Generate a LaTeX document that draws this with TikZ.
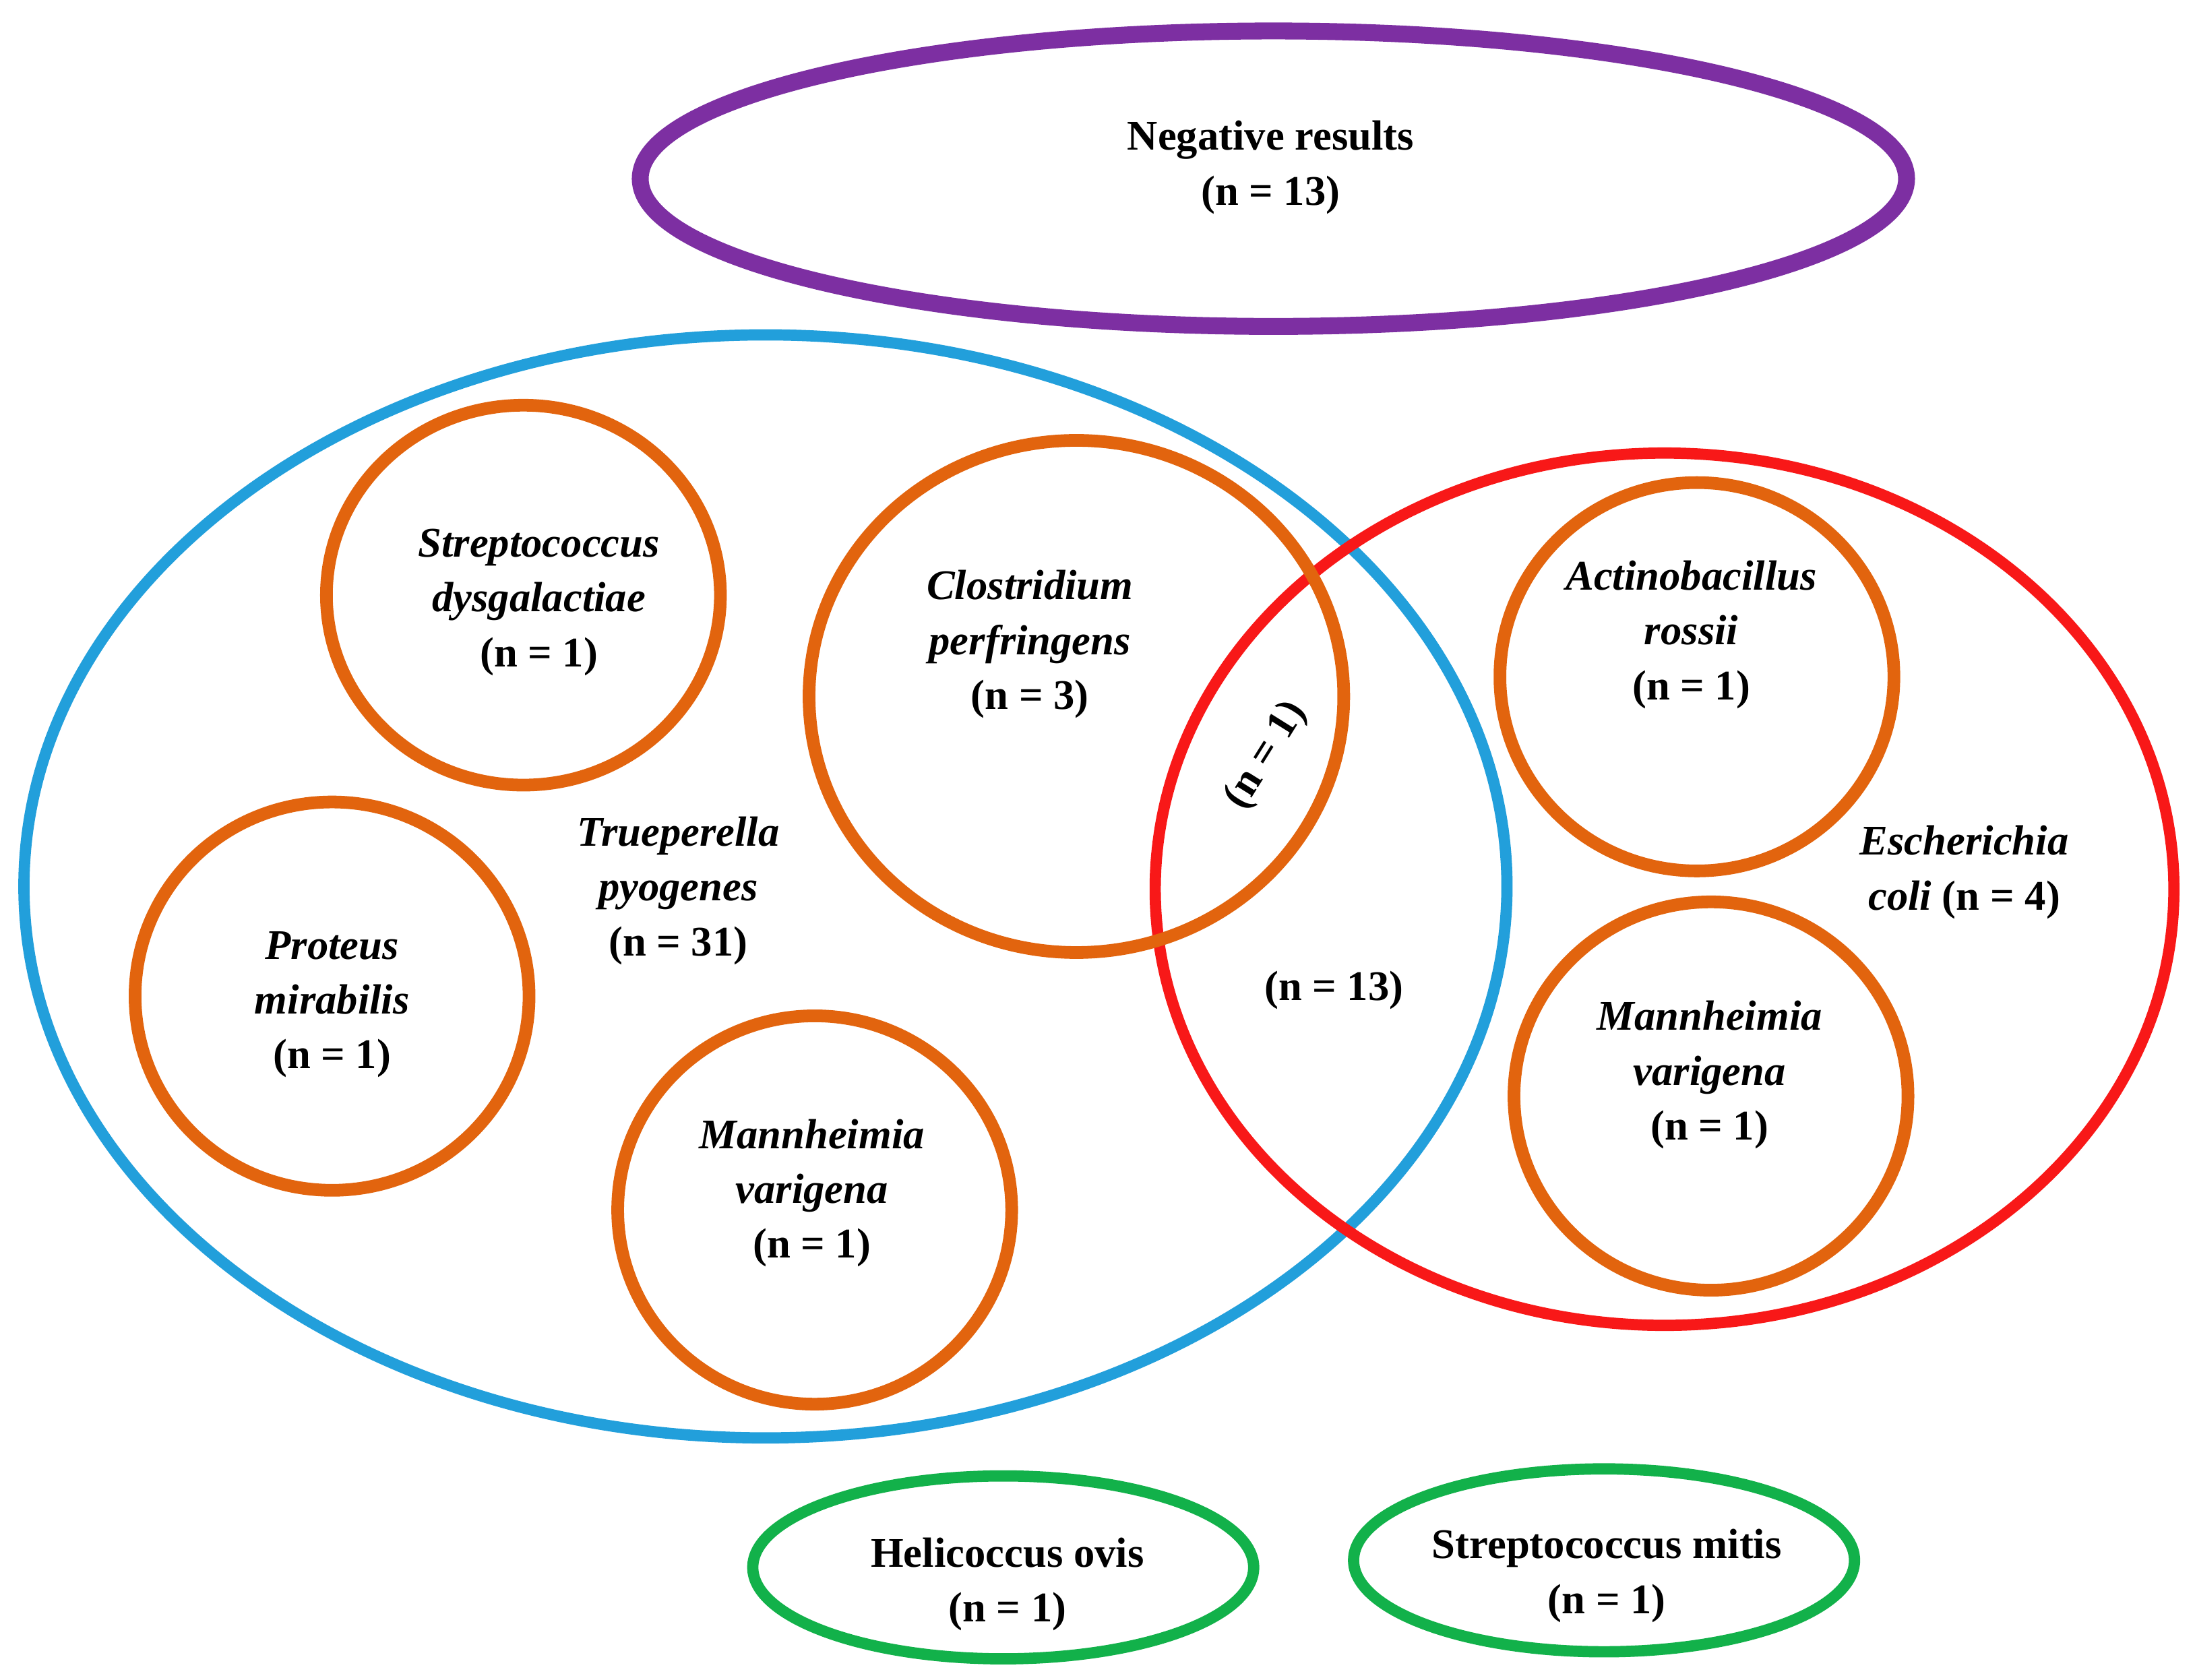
\documentclass[tikz,border=0pt]{standalone}
\usepackage{fontspec}
\setmainfont{Liberation Serif}
\definecolor{cpur}{HTML}{7D2FA2}
\definecolor{cblu}{HTML}{229FDB}
\definecolor{cred}{HTML}{F81818}
\definecolor{cora}{HTML}{E2640E}
\definecolor{cgrn}{HTML}{12B14A}
\begin{document}
\begin{tikzpicture}[x=1pt,y=-1pt,
  lab/.style={align=center,font=\fontsize{30}{39}\selectfont\bfseries},
  orc/.style={draw=cora,line width=9pt}]
\useasboundingbox (0,0) rectangle (1560,1194);
\draw[cpur,line width=12pt] (905,127) ellipse [x radius=450,y radius=105];
\draw[cblu,line width=8pt] (544,630) ellipse [x radius=527,y radius=392];
\draw[cred,line width=8pt] (1183,632) ellipse [x radius=362,y radius=310];
\draw[orc] (372,423) ellipse [x radius=140,y radius=135];
\draw[orc] (765,495) ellipse [x radius=190,y radius=182];
\draw[orc] (236,708) ellipse [x radius=140,y radius=138];
\draw[orc] (579,860) ellipse [x radius=140,y radius=138];
\draw[orc] (1206,481) ellipse [x radius=140,y radius=138];
\draw[orc] (1216,779) ellipse [x radius=140,y radius=138];
\draw[cgrn,line width=8pt] (713,1114) ellipse [x radius=178,y radius=65];
\draw[cgrn,line width=8pt] (1140,1109) ellipse [x radius=178,y radius=65];
\node[lab] (neg) at (903,119) {Negative results\\(n = 13)};
\node[lab] (sd) at (383,428) {\textit{Streptococcus}\\\textit{dysgalactiae}\\(n = 1)};
\node[lab] (cp) at (732,458) {\textit{Clostridium}\\\textit{perfringens}\\(n = 3)};
\node[lab] (tp) at (482,633) {\textit{Trueperella}\\\textit{pyogenes}\\(n = 31)};
\node[lab] (pm) at (236,714) {\textit{Proteus}\\\textit{mirabilis}\\(n = 1)};
\node[lab] (mv1) at (577,848) {\textit{Mannheimia}\\\textit{varigena}\\(n = 1)};
\node[lab] (ar) at (1202,451) {\textit{Actinobacillus}\\\textit{rossii}\\(n = 1)};
\node[lab] (ec) at (1396,620) {\textit{Escherichia}\\\textit{coli} (n = 4)};
\node[lab] (mv2) at (1215,764) {\textit{Mannheimia}\\\textit{varigena}\\(n = 1)};
\node[lab,rotate=58,inner sep=0pt] (n1) at (900,537) {(n = 1)};
\node[lab] (n13) at (948,704) {(n = 13)};
\node[lab] (ho) at (716,1126) {Helicoccus ovis\\(n = 1)};
\node[lab] (sm) at (1142,1120) {Streptococcus mitis\\(n = 1)};
\end{tikzpicture}
\end{document}
